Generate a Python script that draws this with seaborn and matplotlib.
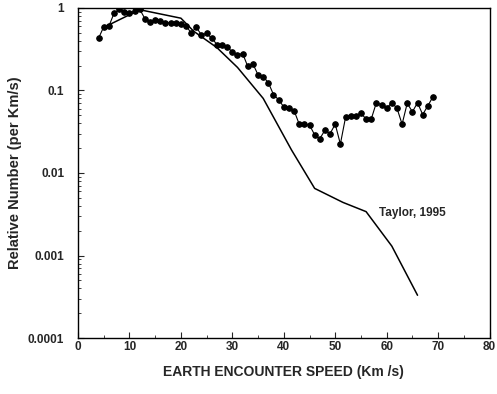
import numpy as np
import pandas as pd
import matplotlib
matplotlib.use('Agg')
import matplotlib.pyplot as plt
import seaborn as sns
from matplotlib.ticker import NullFormatter, MultipleLocator

sns.set_style('ticks')
plt.rcParams['font.family'] = ['Liberation Sans', 'DejaVu Sans']

# observed distribution (dots), 1 km/s bins
speed = list(range(4, 70))
rel_number = [0.43, 0.59, 0.60, 0.86, 0.96, 0.90, 0.86, 0.92, 0.96, 0.74,
              0.68, 0.72, 0.70, 0.66, 0.66, 0.66, 0.64, 0.60, 0.50, 0.58,
              0.47, 0.49, 0.43, 0.36, 0.36, 0.34, 0.29, 0.27, 0.28, 0.195,
              0.21, 0.154, 0.147, 0.124, 0.089, 0.077, 0.063, 0.061, 0.057, 0.039,
              0.039, 0.038, 0.029, 0.026, 0.033, 0.030, 0.039, 0.0224, 0.047, 0.049,
              0.049, 0.053, 0.045, 0.045, 0.071, 0.067, 0.061, 0.071, 0.061, 0.039,
              0.070, 0.055, 0.071, 0.051, 0.065, 0.084]

# Taylor, 1995 curve
taylor_speed = [5, 12, 20, 22.5, 27, 31, 36, 41.5, 46, 51.5, 56, 61, 66]
taylor_number = [0.58, 0.95, 0.75, 0.52, 0.33, 0.19, 0.08, 0.019, 0.0065,
                 0.0044, 0.0034, 0.0013, 0.00033]

df = pd.DataFrame({'speed': speed, 'rel': rel_number})
df_t = pd.DataFrame({'speed': taylor_speed, 'rel': taylor_number})

fig = plt.figure(figsize=(4.97, 3.94), dpi=100)
ax = fig.add_axes([0.157, 0.142, 0.828, 0.838])

sns.lineplot(data=df, x='speed', y='rel', ax=ax, color='black', marker='o',
             markersize=4, markeredgecolor='black', linewidth=0.8)
sns.lineplot(data=df_t, x='speed', y='rel', ax=ax, color='black', linewidth=1.1)

ax.set_yscale('log')
ax.set_ylim(0.0001, 1)
ax.set_xlim(0, 80)
ax.xaxis.set_major_locator(MultipleLocator(10))
ax.xaxis.set_minor_locator(MultipleLocator(5))
ax.set_yticks([0.0001, 0.001, 0.01, 0.1, 1])
ax.set_yticklabels(['0.0001', '0.001', '0.01', '0.1', '1'])
ax.yaxis.set_minor_formatter(NullFormatter())

ax.tick_params(axis='both', which='both', direction='in', labelsize=8.5)
ax.tick_params(axis='x', which='major', pad=2)
ax.tick_params(axis='y', which='major', pad=10)
ax.tick_params(axis='both', which='major', length=4, width=0.8)
ax.tick_params(axis='both', which='minor', length=2, width=0.6)
for lab in ax.get_xticklabels() + ax.get_yticklabels():
    lab.set_fontweight('bold')
for sp in ax.spines.values():
    sp.set_linewidth(1.0)
    sp.set_color('black')

ax.set_xlabel('EARTH ENCOUNTER SPEED (Km /s)', fontsize=10, fontweight='bold', labelpad=9)
ax.set_ylabel('Relative Number (per Km/s)', fontsize=10.5, fontweight='bold', labelpad=4)
ax.text(58.5, 0.0033, 'Taylor, 1995', fontsize=8.5, fontweight='bold', va='center')

fig.savefig('out.png', dpi=100)
